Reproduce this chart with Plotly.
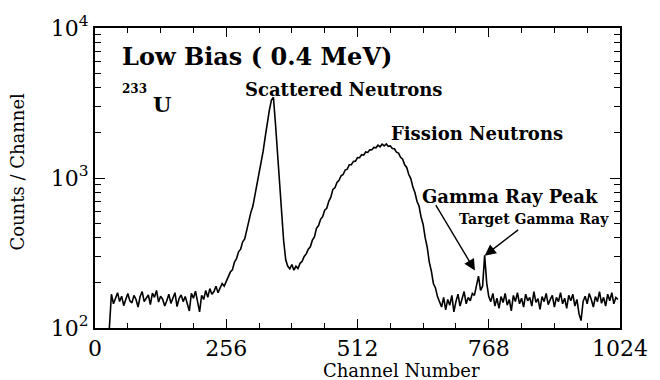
import plotly.graph_objects as go

# ---- data ----
channel_start = 28
channel_step = 4

counts_start = [100]
counts_low_bg = [168, 145, 160, 172, 150, 163, 141, 158, 170, 152,
                 147, 165, 155, 138, 162, 175, 150, 158, 166, 143,
                 171, 160, 178, 149, 163, 155, 140, 152, 168, 146,
                 160, 172, 139, 157, 166, 150, 162, 145, 130, 170,
                 158, 176, 148]
counts_rise = [128, 165, 155, 178, 160, 183, 168, 175, 190, 172, 185, 198, 190, 205]
counts_neutrons = [215, 236, 244, 275, 290, 322, 335, 375, 392, 455,
                   505, 590, 650, 770, 870, 1040, 1220, 1510, 1880, 2380,
                   2820, 3300, 3450, 2300, 1500, 950, 560, 380, 285, 258,
                   248, 265, 243, 258, 249, 270, 278, 300, 312, 335,
                   348, 385, 405, 462, 482, 530, 552, 610, 628, 700,
                   745, 840, 860, 935, 965, 1035, 1055, 1130, 1145, 1225,
                   1225, 1290, 1295, 1370, 1365, 1430, 1420, 1490, 1480, 1540,
                   1545, 1600, 1590, 1655, 1615, 1680, 1635, 1685, 1625, 1635,
                   1575, 1565, 1485, 1465, 1375, 1335, 1225, 1175, 1055, 990,
                   870, 800, 700, 650, 550, 490, 400, 345, 275, 240,
                   198, 185, 162]
counts_high_bg = [150, 138, 160, 132, 155, 142, 165, 128, 150, 168,
                  140, 158, 175, 145, 160, 152, 170, 165, 195, 222,
                  178, 190, 305, 200, 162, 150, 170, 140, 158, 135,
                  162, 148, 170, 142, 155, 130, 165, 150, 172, 145,
                  158, 138, 168, 152, 160, 140, 175, 148, 157, 133,
                  162, 150, 170, 143, 155, 165, 138, 160, 150, 172,
                  145, 158, 135, 165, 152, 168, 140, 155, 125, 112,
                  150, 163, 145, 170, 155, 138, 162, 150, 175, 146,
                  160, 140, 168, 152, 172, 145, 160, 155]

counts = counts_start + counts_low_bg + counts_rise + counts_neutrons + counts_high_bg
channels = [channel_start + channel_step * i for i in range(len(counts))]

x_ticks = [0, 256, 512, 768, 1024]
y_ticks = [100, 1000, 10000]
y_tick_text = ["10<sup>2</sup>", "10<sup>3</sup>", "10<sup>4</sup>"]
y_minor = [200, 300, 400, 500, 600, 700, 800, 900,
           2000, 3000, 4000, 5000, 6000, 7000, 8000, 9000]

SERIF = "DejaVu Serif"

fig = go.Figure()
fig.add_trace(go.Scatter(x=channels, y=counts, mode="lines",
                         line=dict(color="black", width=1.6), showlegend=False))

ann = []
def txt(text, x, y, size, bold=True, anchor="left"):
    ann.append(dict(text=(f"<b>{text}</b>" if bold else text), x=x, y=y,
                    xref="x", yref="y", xanchor=anchor, yanchor="middle",
                    showarrow=False, font=dict(family=SERIF, size=size, color="black")))

txt("Low Bias ( 0.4 MeV)", 48, 3.809, 24)
txt("233", 48, 3.595, 12)
txt("U", 109, 3.488, 21)
txt("Scattered Neutrons", 288, 3.591, 18)
txt("Fission Neutrons", 573, 3.297, 18)
txt("Gamma Ray Peak", 634, 2.878, 18)
txt("Target Gamma Ray", 706, 2.726, 14)

# arrows
ann.append(dict(x=741, y=2.383, xref="x", yref="y", ax=-40, ay=-67, text="",
                showarrow=True, arrowhead=2, arrowsize=1.6, arrowwidth=1.4, arrowcolor="black"))
ann.append(dict(x=760, y=2.482, xref="x", yref="y", ax=35, ay=-27, text="",
                showarrow=True, arrowhead=2, arrowsize=1.6, arrowwidth=1.4, arrowcolor="black"))

# axis titles
ann.append(dict(text="Channel Number", x=(406 - 95) / 532, y=-0.14, xref="paper", yref="paper",
                xanchor="center", yanchor="middle", showarrow=False,
                font=dict(family=SERIF, size=18, color="black")))
ann.append(dict(text="Counts / Channel", x=-(95 - 17) / 532, y=(328 - 170) / 303,
                xref="paper", yref="paper", xanchor="center", yanchor="middle",
                textangle=-90, showarrow=False,
                font=dict(family=SERIF, size=18, color="black")))

fig.update_layout(
    width=660, height=380,
    margin=dict(l=95, r=33, t=25, b=52),
    paper_bgcolor="white", plot_bgcolor="white",
    annotations=ann,
    xaxis=dict(range=[0, 1024], tickvals=x_ticks, ticks="inside", ticklen=9,
               tickwidth=1.3, tickcolor="black",
               showline=True, linecolor="black", linewidth=2, mirror="ticks",
               showgrid=False, zeroline=False,
               minor=dict(ticks="inside", ticklen=5, tickwidth=1.2, tickcolor="black", dtick=64,
                          showgrid=False),
               tickfont=dict(family=SERIF, size=22, color="black")),
    yaxis=dict(type="log", range=[2, 4], tickvals=y_ticks, ticktext=y_tick_text,
               ticks="inside", ticklen=10, tickwidth=1.3, tickcolor="black",
               showline=True, linecolor="black", linewidth=2, mirror="ticks",
               showgrid=False, zeroline=False,
               minor=dict(ticks="inside", ticklen=6, tickwidth=1.2, tickcolor="black",
                          tickmode="array", tickvals=y_minor, showgrid=False),
               tickfont=dict(family=SERIF, size=22, color="black")),
)

fig.write_html("out.html")
